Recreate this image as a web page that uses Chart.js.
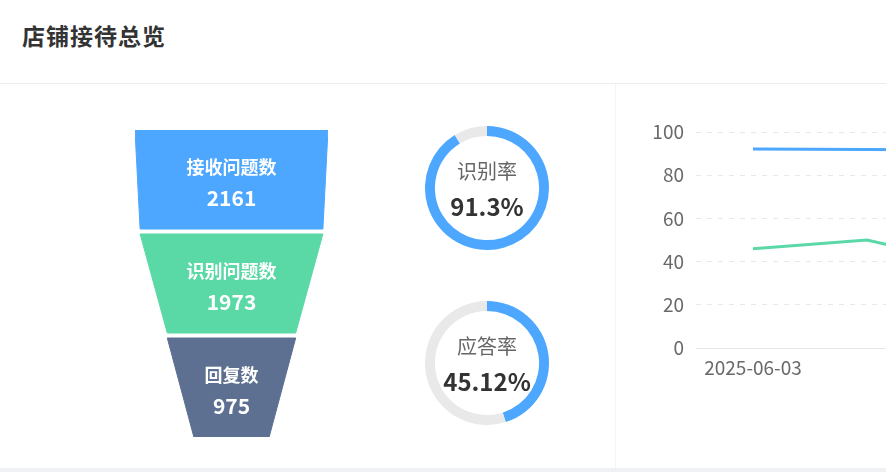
<!DOCTYPE html>
<html>
<head>
<meta charset="utf-8">
<script src="https://cdn.jsdelivr.net/npm/chart.js@4/dist/chart.umd.min.js"></script>
<style>
  html, body { margin: 0; padding: 0; }
  body {
    width: 886px; height: 472px; overflow: hidden; position: relative;
    background: #fff; font-family: "Noto Sans CJK SC", "Noto Sans", sans-serif;
  }
  .title { position: absolute; left: 22px; top: 18px; font-size: 23px; font-weight: bold; color: #333; letter-spacing: 1px; }
  .hr { position: absolute; left: 0; top: 83px; width: 886px; height: 1px; background: #ececec; }
  .vr { position: absolute; left: 615px; top: 84px; width: 1px; height: 384px; background: #f4f4f4; }
  .foot { position: absolute; left: 0; top: 468px; width: 886px; height: 4px; background: #f0f1f5; }
  canvas { position: absolute; }
</style>
</head>
<body>
<div class="title">店铺接待总览</div>
<div class="hr"></div>
<div class="vr"></div>
<div class="foot"></div>

<canvas id="funnel" width="193" height="307" style="left:135px;top:130px"></canvas>
<canvas id="rate0" width="124" height="124" style="left:425px;top:126px"></canvas>
<canvas id="rate1" width="124" height="124" style="left:425px;top:301px"></canvas>
<canvas id="trend" width="423" height="288" style="left:615px;top:100px"></canvas>

<script>
// 漏斗：接待数据
const funnelLabels = ['接收问题数', '识别问题数', '回复数'];
const funnelValues = [2161, 1973, 975];
const funnelColors = ['#4da7ff', '#5ad8a6', '#5d7092'];

// 环形图：比率
const rateLabels = ['识别率', '应答率'];
const rateValues = [91.3, 45.12];

// 趋势折线
const trendDates = ['2025-06-03', '2025-06-04', '2025-06-05'];
const recognizeTrend = [92.1, 91.9, 91.7];
const replyTrend = [46, 50, 38];
const yTickValues = [0, 20, 40, 60, 80, 100];

const BLUE = '#4da7ff';
const GREEN = '#5ad8a6';
const FONT = '"Noto Sans CJK SC", "Noto Sans", sans-serif';

Chart.defaults.font.family = FONT;
Chart.defaults.animation = false;

// ---- 漏斗 ----
// 宽度按数值线性映射，最小宽度 minSize，最后一层底边取 0
const minSize = 0.39;
const layerH = 99, layerGap = 5;
const maxVal = Math.max(...funnelValues);
const sizeOf = v => minSize + (1 - minSize) * v / maxVal;

const funnelSets = funnelValues.map((v, i) => {
  const top = i * (layerH + layerGap);
  const bot = top + layerH;
  const wTop = sizeOf(v) / 2;
  const wBot = sizeOf(i + 1 < funnelValues.length ? funnelValues[i + 1] : 0) / 2;
  return {
    label: funnelLabels[i],
    data: [
      { x: -wTop, y: top }, { x: wTop, y: top },
      { x: wBot, y: bot }, { x: -wBot, y: bot }, { x: -wTop, y: top }
    ],
    showLine: true,
    fill: 'shape',
    backgroundColor: funnelColors[i],
    borderColor: funnelColors[i],
    borderWidth: 1,
    pointRadius: 0,
    tension: 0
  };
});

const funnelText = {
  id: 'funnelText',
  afterDatasetsDraw(chart) {
    const { ctx, scales } = chart;
    ctx.save();
    ctx.fillStyle = '#fff';
    ctx.textAlign = 'center';
    ctx.textBaseline = 'middle';
    const cx = scales.x.getPixelForValue(0);
    funnelValues.forEach((v, i) => {
      const top = i * (layerH + layerGap);
      const cy = scales.y.getPixelForValue(top + layerH / 2);
      ctx.font = 'bold 18px ' + FONT;
      ctx.fillText(funnelLabels[i], cx, cy - 12);
      ctx.font = 'bold 21px ' + FONT;
      ctx.fillText(String(v), cx, cy + 19);
    });
    ctx.restore();
  }
};

new Chart(document.getElementById('funnel'), {
  type: 'scatter',
  data: { datasets: funnelSets },
  options: {
    responsive: false,
    layout: { padding: 0 },
    plugins: { legend: { display: false }, tooltip: { enabled: false } },
    scales: {
      x: { display: false, min: -0.5, max: 0.5 },
      y: { display: false, min: 0, max: 3 * layerH + 2 * layerGap, reverse: true }
    }
  },
  plugins: [funnelText]
});

// ---- 环形比率 ----
const centerText = {
  id: 'centerText',
  afterDraw(chart) {
    const { ctx, chartArea } = chart;
    const cx = (chartArea.left + chartArea.right) / 2;
    const cy = (chartArea.top + chartArea.bottom) / 2;
    const i = chart.options.plugins.centerText.index;
    ctx.save();
    ctx.textAlign = 'center';
    ctx.textBaseline = 'middle';
    ctx.fillStyle = '#666';
    ctx.font = '20px ' + FONT;
    ctx.fillText(rateLabels[i], cx, cy - 17);
    ctx.fillStyle = '#333';
    ctx.font = 'bold 24px ' + FONT;
    ctx.fillText(rateValues[i] + '%', cx, cy + 19);
    ctx.restore();
  }
};

rateValues.forEach((v, i) => {
  new Chart(document.getElementById('rate' + i), {
    type: 'doughnut',
    data: {
      labels: [rateLabels[i], ''],
      datasets: [{
        data: [v, 100 - v],
        backgroundColor: [BLUE, '#e9e9e9'],
        borderWidth: 0
      }]
    },
    options: {
      responsive: false,
      cutout: '84%',
      layout: { padding: 0 },
      plugins: { legend: { display: false }, tooltip: { enabled: false }, centerText: { index: i } }
    },
    plugins: [centerText]
  });
});

// ---- 趋势折线 ----
new Chart(document.getElementById('trend'), {
  type: 'line',
  data: {
    labels: trendDates,
    datasets: [
      { label: '识别率', data: recognizeTrend, borderColor: BLUE, backgroundColor: BLUE, borderWidth: 3, pointRadius: 0, tension: 0 },
      { label: '应答率', data: replyTrend, borderColor: GREEN, backgroundColor: GREEN, borderWidth: 3, pointRadius: 0, tension: 0 }
    ]
  },
  options: {
    responsive: false,
    layout: { padding: { top: 32, right: 0, left: 0, bottom: 0 } },
    plugins: { legend: { display: false }, tooltip: { enabled: false } },
    scales: {
      x: {
        offset: true,
        grid: { display: false },
        border: { display: true, color: '#e6e6e6', width: 1 },
        ticks: {
          color: '#6a6a6a', font: { size: 19 }, padding: 0, maxRotation: 0, autoSkip: false,
          callback(val, idx) { return idx % 2 === 0 ? this.getLabelForValue(val) : ''; }
        },
        afterFit(scale) { scale.height = 40; }
      },
      y: {
        min: yTickValues[0],
        max: yTickValues[yTickValues.length - 1],
        afterBuildTicks(scale) { scale.ticks = yTickValues.map(value => ({ value })); },
        grid: {
          drawTicks: false,
          color: ctx => ctx.tick && ctx.tick.value === 0 ? 'rgba(0,0,0,0)' : '#e8e8e8'
        },
        border: { display: false, dash: [5, 6] },
        ticks: { color: '#6a6a6a', font: { size: 19 }, padding: 12 },
        afterFit(scale) { scale.width = 81; }
      }
    }
  }
});
</script>
</body>
</html>
